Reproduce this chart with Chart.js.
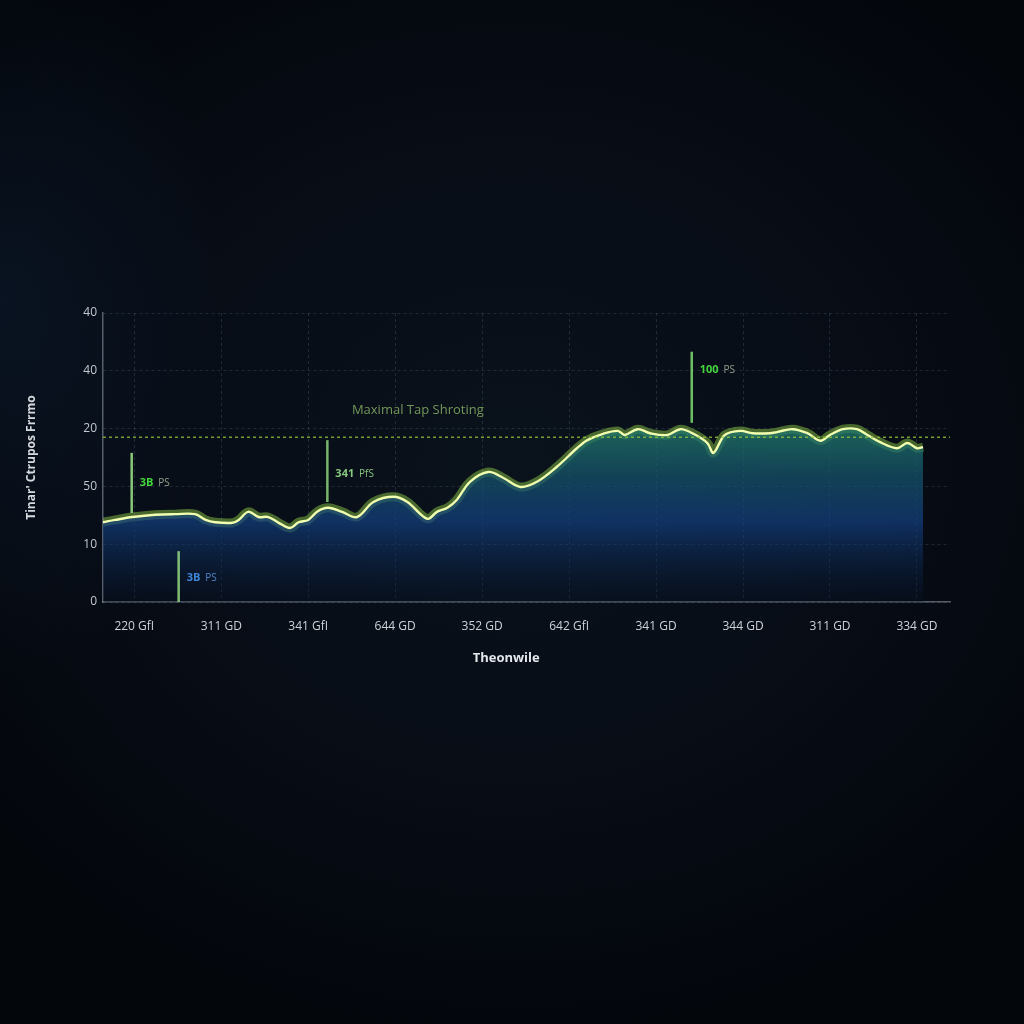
<!DOCTYPE html>
<html>
<head>
<meta charset="utf-8">
<script src="https://cdn.jsdelivr.net/npm/chart.js@4.4.1/dist/chart.umd.min.js"></script>
<style>
  html, body { margin: 0; padding: 0; }
  body {
    width: 1024px; height: 1024px; overflow: hidden;
    background:
      radial-gradient(ellipse 220px 380px at 0px 300px, rgba(30,70,120,0.16), rgba(0,0,0,0) 100%),
      radial-gradient(ellipse 700px 600px at 50% 45%, #0a121c 0%, #070c15 55%, #03060b 100%);
  }
  #wrap { position: absolute; left: 0; top: 0; width: 1024px; height: 1024px; }
</style>
</head>
<body>
<div id="wrap"><canvas id="chart"></canvas></div>
<script>
// x tick labels (one per vertical grid line)
const xLabels = ['220 GfI', '311 GD', '341 GfI', '644 GD', '352 GD', '642 GfI', '341 GD', '344 GD', '311 GD', '334 GD'];
// y tick labels as printed on the reference, for values 0,10,...,50
const yLabels = ['0', '10', '50', '20', '40', '40'];

// main series, position along the x axis and value
const seriesX = [-0.36, -0.22, -0.02, 0.24, 0.47, 0.70, 0.82, 0.93, 1.13, 1.20, 1.31, 1.43, 1.54, 1.66, 1.79, 1.89, 2.00, 2.11, 2.23, 2.39, 2.56, 2.75, 2.98, 3.14, 3.37, 3.48, 3.60, 3.71, 3.86, 4.07, 4.24, 4.44, 4.63, 4.86, 5.09, 5.21, 5.39, 5.56, 5.64, 5.79, 5.93, 6.13, 6.28, 6.43, 6.59, 6.66, 6.79, 6.97, 7.11, 7.31, 7.39, 7.57, 7.74, 7.89, 8.00, 8.15, 8.31, 8.43, 8.57, 8.77, 8.89, 9.00, 9.07];
const seriesY = [13.8, 14.2, 14.7, 15.1, 15.2, 15.2, 14.2, 13.8, 13.7, 14.2, 15.6, 14.7, 14.7, 13.7, 12.8, 13.8, 14.2, 15.7, 16.3, 15.6, 14.7, 17.3, 18.2, 17.3, 14.4, 15.6, 16.3, 17.7, 20.8, 22.5, 21.5, 19.9, 20.8, 23.4, 26.6, 28.0, 29.1, 29.6, 28.9, 29.9, 29.2, 28.9, 29.9, 29.1, 27.5, 25.8, 28.9, 29.6, 29.2, 29.2, 29.4, 29.9, 29.2, 27.9, 28.9, 29.9, 29.9, 28.9, 27.7, 26.6, 27.5, 26.6, 26.8];

// threshold
const thresholdValue = 28.5;
const thresholdLabel = 'Maximal Tap Shroting';
const thresholdLabelX = 3.26;
const thresholdLabelY = 33.2;

// marker annotations
const markX = [-0.03, 0.51, 2.22, 6.41];
const markFrom = [15.4, 0, 17.3, 31.0];
const markTo = [25.8, 8.8, 28.0, 43.3];
const markLabelY = [20.6, 4.2, 22.1, 40.1];
const markNum = ['3B', '3B', '341', '100'];
const markUnit = ['PS', 'PS', 'PfS', 'PS'];

const xTitle = 'Theonwile';
const yTitle = "Tinar' Ctrupos Frrmo";

const X_MIN = -0.36, X_MAX = 9.38;
const FONT = "'Open Sans', 'DejaVu Sans', sans-serif";

const points = seriesX.map((x, i) => ({ x: x, y: seriesY[i] }));

function areaFill(context) {
  const chart = context.chart;
  const y = chart.scales.y;
  if (!chart.chartArea || !y) return 'rgba(20,70,130,0.6)';
  const g = chart.ctx.createLinearGradient(0, y.getPixelForValue(31), 0, y.getPixelForValue(0));
  g.addColorStop(0, 'rgba(35,125,105,0.8)');
  g.addColorStop(0.3, 'rgba(22,85,110,0.72)');
  g.addColorStop(0.55, 'rgba(20,65,130,0.7)');
  g.addColorStop(1, 'rgba(8,20,40,0.3)');
  return g;
}

const markColors = ['rgba(150,220,130,0.9)', 'rgba(150,220,130,0.85)', 'rgba(140,210,120,0.85)', 'rgba(120,210,110,0.9)'];

const datasets = [
  {
    // fill + core line
    data: points,
    borderColor: '#f2ffb0',
    borderWidth: 2.4,
    backgroundColor: areaFill,
    fill: 'start',
    pointRadius: 0,
    tension: 0.35,
    order: 2
  },
  {
    // glow under the core line
    data: points,
    borderColor: 'rgba(170,240,80,0.4)',
    borderWidth: 9,
    fill: false,
    pointRadius: 0,
    tension: 0.35,
    order: 3
  },
  {
    data: [{ x: X_MIN, y: thresholdValue }, { x: X_MAX, y: thresholdValue }],
    borderColor: 'rgba(145,195,60,0.8)',
    borderWidth: 1.5,
    borderDash: [3, 3],
    fill: false,
    pointRadius: 0,
    order: 1
  }
];

markX.forEach((x, i) => {
  datasets.push({
    data: [{ x: x, y: markFrom[i] }, { x: x, y: markTo[i] }],
    borderColor: markColors[i],
    borderWidth: 2.5,
    fill: false,
    pointRadius: 0,
    order: 0
  });
});

const annotations = {
  id: 'annotations',
  afterDatasetsDraw(chart) {
    const { ctx, scales: { x, y }, chartArea } = chart;
    ctx.save();
    ctx.textBaseline = 'middle';

    ctx.font = '13px ' + FONT;
    ctx.fillStyle = 'rgba(125,165,95,0.9)';
    ctx.textAlign = 'center';
    ctx.fillText(thresholdLabel, x.getPixelForValue(thresholdLabelX), y.getPixelForValue(thresholdLabelY));

    ctx.textAlign = 'left';
    markX.forEach((mx, i) => {
      const px = x.getPixelForValue(mx) + 8;
      const py = y.getPixelForValue(markLabelY[i]);
      const blue = i === 1;
      ctx.font = 'bold 11px ' + FONT;
      ctx.fillStyle = blue ? '#3f86d8' : (i === 2 ? '#86c47e' : '#41d63c');
      ctx.fillText(markNum[i], px, py);
      const w = ctx.measureText(markNum[i] + ' ').width;
      ctx.font = '10px ' + FONT;
      ctx.fillStyle = blue ? '#4f84c4' : (i === 2 ? '#86c47e' : '#8fa08a');
      ctx.fillText(markUnit[i], px + w + 2, py);
    });

    // x axis title
    ctx.font = 'bold 13px ' + FONT;
    ctx.fillStyle = '#e4e8ec';
    ctx.textAlign = 'center';
    ctx.fillText(xTitle, chartArea.left + (chartArea.right - chartArea.left) * 0.476, chartArea.bottom + 56);
    ctx.restore();
  }
};

new Chart(document.getElementById('chart'), {
  type: 'line',
  data: { datasets: datasets },
  options: {
    responsive: true,
    maintainAspectRatio: false,
    animation: false,
    layout: { padding: { left: 0, top: 313, right: 74, bottom: 342 } },
    plugins: { legend: { display: false }, tooltip: { enabled: false } },
    scales: {
      x: {
        type: 'linear',
        min: X_MIN,
        max: X_MAX,
        afterBuildTicks: scale => { scale.ticks = xLabels.map((_, i) => ({ value: i })); },
        afterFit: scale => { scale.height = 80; },
        grid: { color: 'rgba(120,140,165,0.22)', drawTicks: false },
        border: { display: true, color: 'rgba(150,160,175,0.55)', width: 1.5, dash: [3, 3] },
        ticks: {
          color: '#cdd2d8',
          font: { family: FONT, size: 12 },
          padding: 17,
          maxRotation: 0,
          autoSkip: false,
          callback: v => xLabels[Math.round(v)]
        }
      },
      y: {
        min: 0,
        max: 50,
        afterFit: scale => { scale.width = 103; },
        grid: { color: 'rgba(120,140,165,0.22)', drawTicks: false },
        border: { display: true, color: 'rgba(150,160,175,0.55)', width: 1.5, dash: [3, 3] },
        ticks: {
          stepSize: 10,
          color: '#c3c8ce',
          font: { family: FONT, size: 12 },
          padding: 6,
          callback: v => yLabels[Math.round(v / 10)]
        },
        title: {
          display: true,
          text: yTitle,
          color: '#d5d9de',
          font: { family: FONT, size: 12, weight: 'bold' },
          padding: { top: 24, bottom: 0 }
        }
      }
    }
  },
  plugins: [annotations]
});
</script>
</body>
</html>
